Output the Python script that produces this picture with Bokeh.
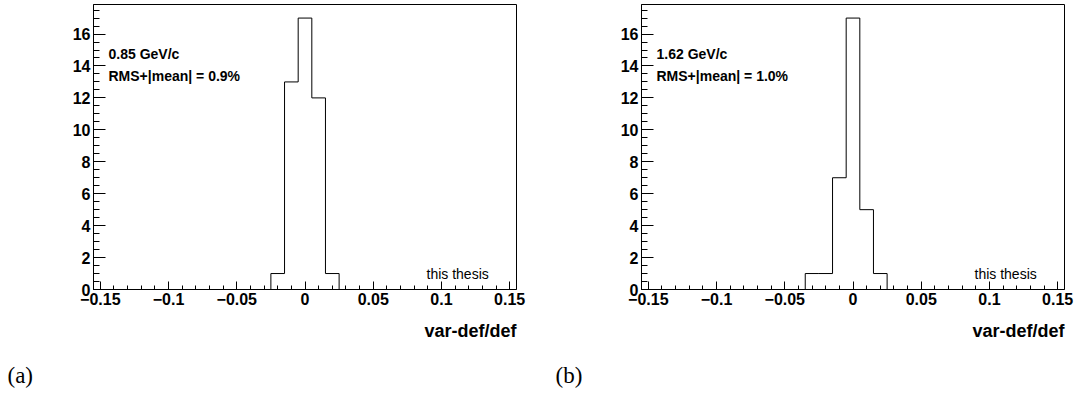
import numpy as np
from bokeh.plotting import figure
from bokeh.layouts import row, column
from bokeh.models import FixedTicker, Label, Range1d, Title
from bokeh.embed import file_html
from bokeh.resources import INLINE

# ---- data ----
bin_width = 0.01
x_min, x_max = -0.155, 0.155
y_max = 17.85

centers_a = [-0.02, -0.01, 0.0, 0.01, 0.02]
counts_a = [1, 13, 17, 12, 1]
centers_b = [-0.03, -0.02, -0.01, 0.0, 0.01, 0.02]
counts_b = [1, 1, 7, 17, 5, 1]

x_ticks = [-0.15, -0.1, -0.05, 0, 0.05, 0.1, 0.15]
x_tick_labels = ["\u22120.15", "\u22120.1", "\u22120.05", "0", "0.05", "0.1", "0.15"]
y_ticks = [0, 2, 4, 6, 8, 10, 12, 14, 16]

momentum_a = "0.85 GeV/c"
rms_a = "RMS+|mean| = 0.9%"
momentum_b = "1.62 GeV/c"
rms_b = "RMS+|mean| = 1.0%"
x_title = "var-def/def"
panel_tags = ["(a)", "(b)"]

FONT = "Liberation Sans"
SERIF = "Liberation Serif"

MAIN_H = 352
STRIP_H = 393 - MAIN_H


def stairs(centers, counts):
    xs, ys = [], []
    lo0 = centers[0] - bin_width / 2
    xs.append(lo0); ys.append(0)
    for c, n in zip(centers, counts):
        xs += [c - bin_width / 2, c + bin_width / 2]
        ys += [n, n]
    xs.append(centers[-1] + bin_width / 2); ys.append(0)
    return xs, ys


def make_panel(centers, counts, txt1, txt2, tag, width, right_border):
    p = figure(width=width, height=MAIN_H, output_backend="svg", toolbar_location=None,
               x_range=Range1d(x_min, x_max), y_range=Range1d(0, y_max),
               min_border_left=93, min_border_right=right_border,
               min_border_top=4, min_border_bottom=MAIN_H - 289)
    p.grid.visible = False
    p.outline_line_color = "black"
    p.outline_line_width = 1
    p.background_fill_color = "white"
    p.border_fill_color = "white"

    minor_x = [round(-0.15 + 0.01 * k, 4) for k in range(31)]
    minor_y = [0.5 * k for k in range(36)]
    p.xaxis.ticker = FixedTicker(ticks=x_ticks, minor_ticks=minor_x)
    p.yaxis.ticker = FixedTicker(ticks=y_ticks, minor_ticks=minor_y)
    p.xaxis.major_label_overrides = {t: l for t, l in zip(x_ticks, x_tick_labels)}

    for ax, maj, mn in ((p.xaxis, 8, 4), (p.yaxis, 12, 6)):
        ax.major_tick_in = maj
        ax.major_tick_out = 0
        ax.minor_tick_in = mn
        ax.minor_tick_out = 0
        ax.axis_line_color = "black"
        ax.major_tick_line_color = "black"
        ax.minor_tick_line_color = "black"
        ax.major_label_text_font = FONT
        ax.major_label_text_font_style = "bold"
        ax.major_label_text_font_size = "16px"
        ax.major_label_text_color = "black"
        ax.major_label_standoff = 3

    xs, ys = stairs(centers, counts)
    p.line(xs, ys, line_color="black", line_width=1, line_join="miter")

    px_x = (x_max - x_min) / 423.0
    px_y = y_max / 285.0

    p.add_layout(Label(x=x_min + 15 * px_x, y=236 * px_y, text=txt1,
                       text_font=FONT, text_font_style="bold", text_font_size="14px",
                       text_baseline="alphabetic", text_color="black"))
    p.add_layout(Label(x=x_min + 15 * px_x, y=214 * px_y, text=txt2,
                       text_font=FONT, text_font_style="bold", text_font_size="14px",
                       text_baseline="alphabetic", text_color="black"))
    p.add_layout(Label(x=x_min + 333 * px_x, y=16 * px_y, text="this thesis",
                       text_font=FONT, text_font_size="14px",
                       text_baseline="alphabetic", text_color="black"))

    p.add_layout(Title(text=x_title, align="right", standoff=22,
                       text_font=FONT, text_font_style="bold", text_font_size="18px",
                       text_color="black"), "below")

    # strip below the plot carrying the panel tag (as a title, left of the frame)
    s = figure(width=width, height=STRIP_H, output_backend="svg", toolbar_location=None,
               x_range=Range1d(0, 1), y_range=Range1d(0, 1),
               x_axis_location=None, y_axis_location=None,
               min_border_left=93, min_border_right=right_border,
               min_border_top=0, min_border_bottom=36)
    s.grid.visible = False
    s.outline_line_color = None
    s.background_fill_color = "white"
    s.border_fill_color = "white"
    s.add_layout(Title(text=tag, align="left", offset=-86, standoff=6,
                       text_font=SERIF, text_font_style="normal", text_font_size="23px",
                       text_color="black"), "below")
    return column(p, s, spacing=0)


p1 = make_panel(centers_a, counts_a, momentum_a, rms_a, panel_tags[0], 548, 32)
p2 = make_panel(centers_b, counts_b, momentum_b, rms_b, panel_tags[1], 527, 11)
layout = row(p1, p2, spacing=0)

open("out.html", "w").write(file_html(layout, INLINE))
